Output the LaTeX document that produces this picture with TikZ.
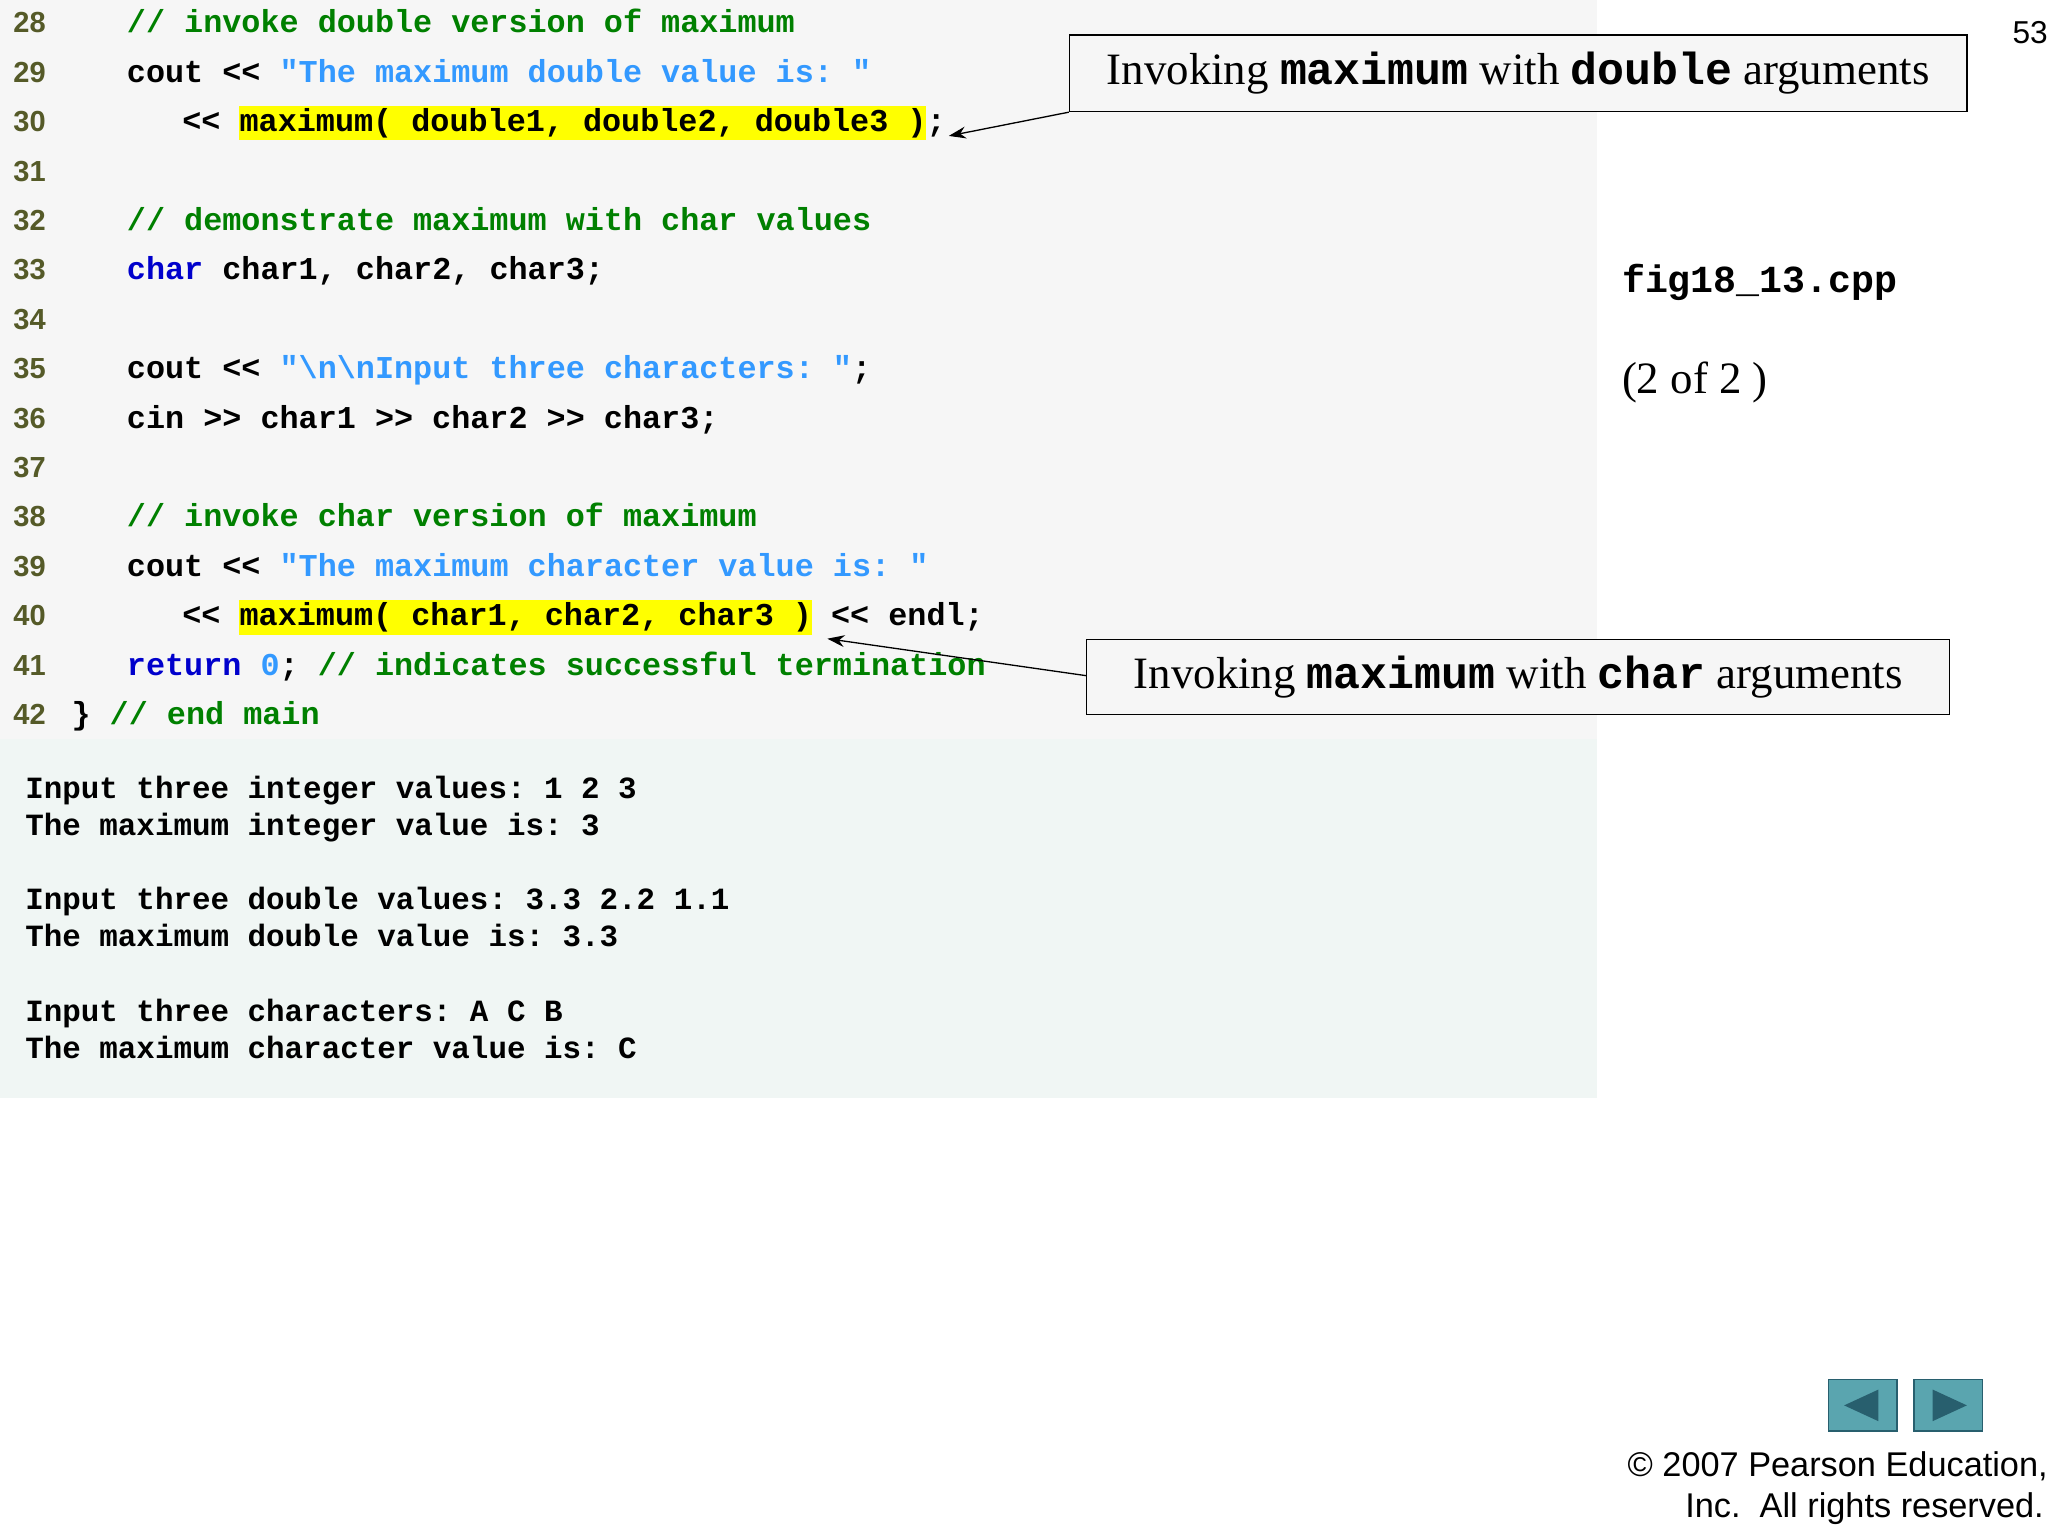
\documentclass[tikz,border=0pt]{standalone}
\usepackage{fontspec}
\usetikzlibrary{arrows.meta}
\setmainfont{Liberation Serif}
\setmonofont{Liberation Mono}
\newfontfamily\arialf{Liberation Sans}
\definecolor{cmt}{RGB}{0,128,0}
\definecolor{str}{RGB}{51,153,255}
\definecolor{kw}{RGB}{0,0,204}
\definecolor{lnum}{RGB}{85,90,40}
\definecolor{codebg}{RGB}{246,246,246}
\definecolor{outbg}{RGB}{240,246,244}
\definecolor{hl}{RGB}{255,255,0}
\definecolor{navc}{RGB}{90,165,175}
\definecolor{navd}{RGB}{40,95,110}
\tikzset{
 code/.style={anchor=base west,inner sep=0pt,font=\ttfamily\bfseries\fontsize{24.1}{30}\selectfont},
 outl/.style={anchor=base west,inner sep=0pt,font=\ttfamily\bfseries\fontsize{23.4}{30}\selectfont},
 ln/.style={anchor=base west,inner sep=0pt,font=\arialf\bfseries\fontsize{22}{26}\selectfont,text=lnum},
 callout/.style={draw=black,line width=1pt,fill=codebg,inner sep=0pt,font=\fontsize{34}{40}\selectfont},
 arr/.style={-{Stealth[length=13pt,width=9pt]},line width=1pt}
}
\newcommand{\mb}[1]{{\ttfamily\bfseries #1}}
\begin{document}
\begin{tikzpicture}[x=1pt,y=-1pt]
\useasboundingbox (0,0) rectangle (1552,1164);
\fill[codebg] (0,0) rectangle (1210,560);
\fill[outbg] (0,560) rectangle (1210,832);
\fill[hl] (181,80) rectangle (702,106);
\fill[hl] (181,455) rectangle (615,481);
\foreach \n [count=\i from 0] in {28,...,42}
  \node[ln] (ln\n) at (10,{25+37.43*\i}) {\n};
\def\yy#1{25+37.43*(#1-28)}
\node[code] (c28) at (96,{\yy{28}}) {\textcolor{cmt}{// invoke double version of maximum}};
\node[code] (c29) at (96,{\yy{29}}) {cout << \textcolor{str}{"The maximum double value is: "}};
\node[code] (c30) at (138,{\yy{30}}) {<< maximum( double1, double2, double3 );};
\node[code] (c32) at (96,{\yy{32}}) {\textcolor{cmt}{// demonstrate maximum with char values}};
\node[code] (c33) at (96,{\yy{33}}) {\textcolor{kw}{char} char1, char2, char3;};
\node[code] (c35) at (96,{\yy{35}}) {cout << \textcolor{str}{"\textbackslash n\textbackslash nInput three characters: "};};
\node[code] (c36) at (96,{\yy{36}}) {cin >> char1 >> char2 >> char3;};
\node[code] (c38) at (96,{\yy{38}}) {\textcolor{cmt}{// invoke char version of maximum}};
\node[code] (c39) at (96,{\yy{39}}) {cout << \textcolor{str}{"The maximum character value is: "}};
\node[code] (c40) at (138,{\yy{40}}) {<< maximum( char1, char2, char3 ) << endl;};
\node[code] (c41) at (96,{\yy{41}}) {\textcolor{kw}{return} \textcolor{str}{0}; \textcolor{cmt}{// indicates successful termination}};
\node[code] (c42) at (54,{\yy{42}}) {\} \textcolor{cmt}{// end main}};
\node[outl] (o1) at (19,605) {Input three integer values: 1 2 3};
\node[outl] (o2) at (19,633) {The maximum integer value is: 3};
\node[outl] (o3) at (19,689) {Input three double values: 3.3 2.2 1.1};
\node[outl] (o4) at (19,717) {The maximum double value is: 3.3};
\node[outl] (o5) at (19,774) {Input three characters: A C B};
\node[outl] (o6) at (19,802) {The maximum character value is: C};
\node[callout,minimum width=680,minimum height=58,anchor=north west] (b1) at (810,26)
  {Invoking \mb{maximum} with \mb{double} arguments};
\node[callout,minimum width=654,minimum height=57,anchor=north west] (b2) at (823,484)
  {Invoking \mb{maximum} with \mb{char} arguments};
\coordinate (t1) at (719,103);
\coordinate (t2) at (627,484);
\draw[arr] (b1.south west) -- (t1);
\draw[arr] (b2.west) ++(0,-1) -- (t2);
\node[anchor=base west,inner sep=0pt,font=\ttfamily\bfseries\fontsize{29}{36}\selectfont] (fn) at (1229,222) {fig18\_13.cpp};
\node[anchor=base west,inner sep=0pt,font=\fontsize{34}{40}\selectfont] (pg) at (1229,298) {(2 of 2 )};
\node[anchor=base east,inner sep=0pt,font=\arialf\fontsize{24}{28}\selectfont] (num) at (1552,33) {53};
\node[draw=navd,line width=1pt,fill=navc,minimum width=52,minimum height=39,anchor=north west,inner sep=0pt] (nb1) at (1385,1045) {};
\node[draw=navd,line width=1pt,fill=navc,minimum width=52,minimum height=39,anchor=north west,inner sep=0pt] (nb2) at (1450,1045) {};
\fill[navd] ([xshift=-14]nb1.center) -- ([xshift=12,yshift=-12]nb1.center) -- ([xshift=12,yshift=12]nb1.center) -- cycle;
\fill[navd] ([xshift=14]nb2.center) -- ([xshift=-12,yshift=-12]nb2.center) -- ([xshift=-12,yshift=12]nb2.center) -- cycle;
\node[anchor=base east,inner sep=0pt,font=\arialf\fontsize{26}{30}\selectfont] (cp1) at (1552,1119) {\textcopyright\ 2007 Pearson Education,};
\node[anchor=base east,inner sep=0pt,font=\arialf\fontsize{26}{30}\selectfont] (cp2) at (1549,1150) {Inc.\ \ All rights reserved.};
\end{tikzpicture}
\end{document}
